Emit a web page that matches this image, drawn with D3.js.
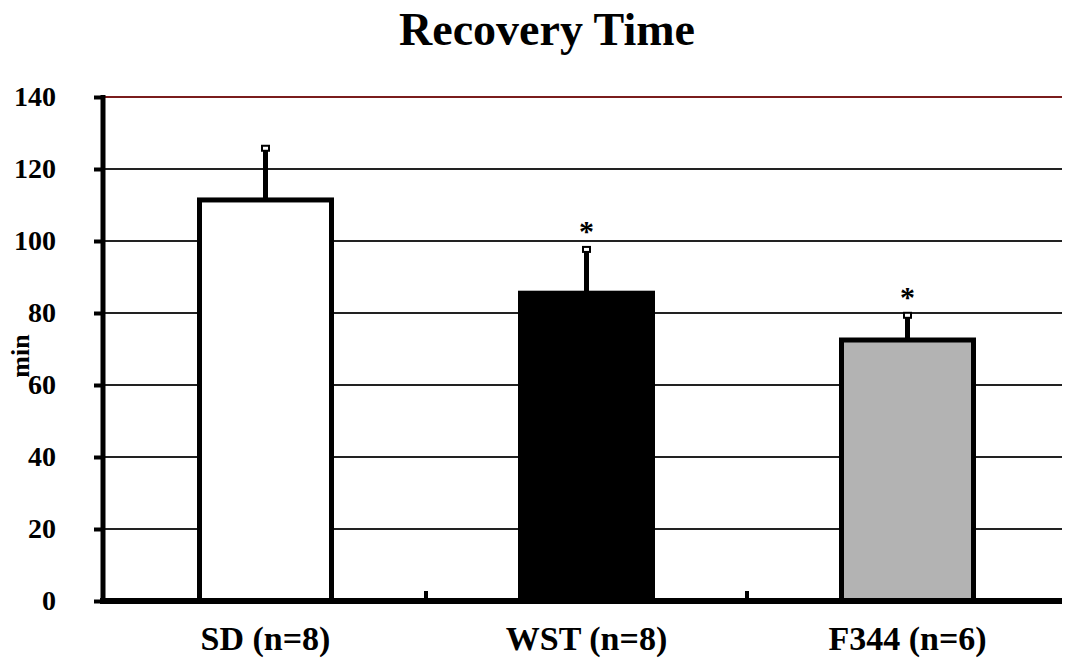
<!DOCTYPE html>
<html>
<head>
<meta charset="utf-8">
<script src="https://cdn.jsdelivr.net/npm/d3@7/dist/d3.min.js"></script>
<style>
  html, body { margin: 0; padding: 0; background: #fff; }
  svg { display: block; font-family: "Liberation Serif", "Times New Roman", serif; }
</style>
</head>
<body>
<svg id="chart" width="1066" height="658"></svg>
<script>
// Recovery time per rat strain (mean, upper SEM)
const categories = ["SD (n=8)", "WST (n=8)", "F344 (n=6)"];
const means = [111.4, 85.5, 72.5];
const errors = [14.5, 12.3, 7.0];
const significant = [false, true, true];
const fills = ["#ffffff", "#000000", "#b3b3b3"];
const yTicks = [0, 20, 40, 60, 80, 100, 120, 140];

const svg = d3.select("#chart");
const margin = { left: 103, top: 97 };

const x = d3.scaleBand()
  .domain(categories)
  .range([105, 1068])
  .paddingInner(0)
  .paddingOuter(0);

const y = d3.scaleLinear()
  .domain([0, 140])
  .range([601, 97]);

const barW = 132;

// Title
svg.append("text")
  .attr("x", 547).attr("y", 45)
  .attr("text-anchor", "middle")
  .attr("font-size", 46).attr("font-weight", "bold")
  .text("Recovery Time");

// Horizontal gridlines
svg.append("g")
  .selectAll("line")
  .data(yTicks.filter(d => d > 0))
  .join("line")
  .attr("x1", margin.left).attr("x2", 1062)
  .attr("y1", d => y(d)).attr("y2", d => y(d))
  .attr("stroke", d => d === 140 ? "#7a1c1c" : "#222")
  .attr("stroke-width", 1.8);

// Y axis
const yAxis = svg.append("g")
  .attr("transform", `translate(${margin.left},0)`)
  .call(d3.axisLeft(y).tickValues(yTicks).tickSize(9).tickPadding(38).tickFormat(d3.format("d")));
yAxis.select(".domain").attr("stroke", "#000").attr("stroke-width", 5)
  .attr("d", `M0,${y(140) - 2}V${y(0) + 3}`);
yAxis.selectAll(".tick line").attr("stroke", "#000").attr("stroke-width", 4);
yAxis.selectAll(".tick text")
  .attr("font-size", 28).attr("font-weight", "bold")
  .attr("font-family", "Liberation Serif, serif").attr("fill", "#000");

// Y axis title
svg.append("text")
  .attr("transform", `translate(29,356) rotate(-90)`)
  .attr("text-anchor", "middle")
  .attr("font-size", 26).attr("font-weight", "bold")
  .text("min");

// Bars
svg.append("g")
  .selectAll("rect")
  .data(means)
  .join("rect")
  .attr("x", (d, i) => x(categories[i]) + x.bandwidth() / 2 - barW / 2)
  .attr("y", d => y(d))
  .attr("width", barW)
  .attr("height", d => y(0) - y(d))
  .attr("fill", (d, i) => fills[i])
  .attr("stroke", "#000")
  .attr("stroke-width", 5);

// Upper error bars with small caps, plus significance marks
const err = svg.append("g");
means.forEach((m, i) => {
  const cx = x(categories[i]) + x.bandwidth() / 2;
  const top = y(m + errors[i]);
  err.append("line")
    .attr("x1", cx).attr("x2", cx)
    .attr("y1", y(m)).attr("y2", top)
    .attr("stroke", "#000").attr("stroke-width", 5);
  err.append("rect")
    .attr("x", cx - 3.5).attr("y", top - 2)
    .attr("width", 7).attr("height", 5)
    .attr("fill", "#fff").attr("stroke", "#000").attr("stroke-width", 2);
  if (significant[i]) {
    err.append("text")
      .attr("x", cx).attr("y", top - 8)
      .attr("text-anchor", "middle")
      .attr("font-size", 30).attr("font-weight", "bold")
      .text("*");
  }
});

// X axis
const xAxis = svg.append("g").attr("transform", `translate(0,${y(0)})`);
xAxis.append("line")
  .attr("x1", margin.left - 3).attr("x2", 1062)
  .attr("y1", 0).attr("y2", 0)
  .attr("stroke", "#000").attr("stroke-width", 6);
// category separator ticks
xAxis.selectAll("line.sep")
  .data(categories.slice(1))
  .join("line")
  .attr("class", "sep")
  .attr("x1", d => x(d)).attr("x2", d => x(d))
  .attr("y1", 0).attr("y2", -10)
  .attr("stroke", "#000").attr("stroke-width", 4);
xAxis.selectAll("text")
  .data(categories)
  .join("text")
  .attr("x", d => x(d) + x.bandwidth() / 2)
  .attr("y", 49)
  .attr("text-anchor", "middle")
  .attr("font-size", 34).attr("font-weight", "bold")
  .text(d => d);
</script>
</body>
</html>
